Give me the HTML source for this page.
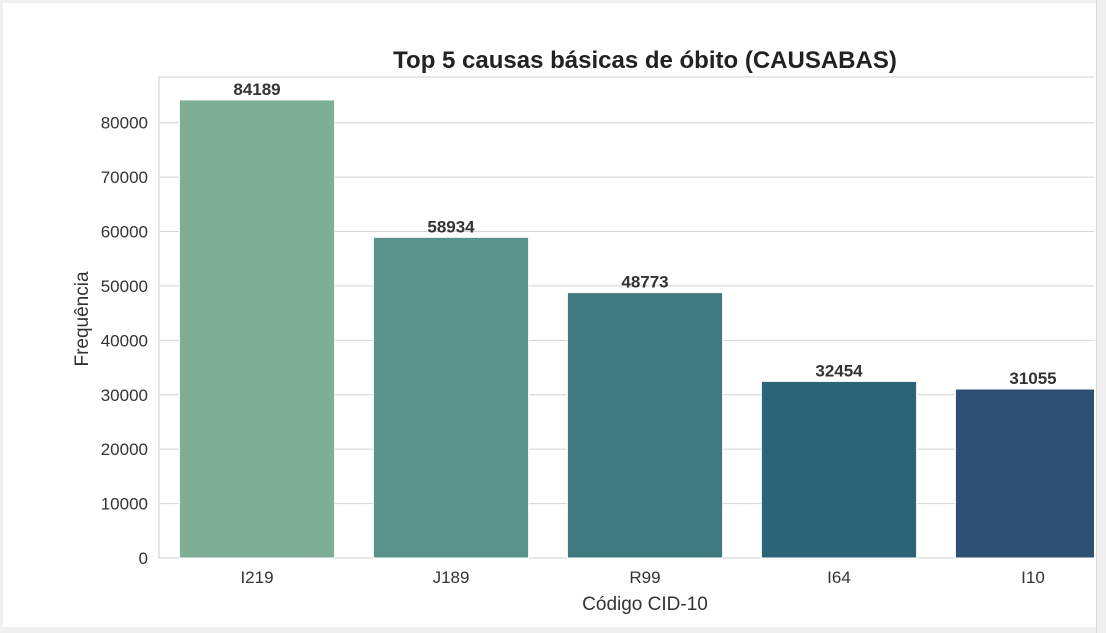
<!DOCTYPE html>
<html><head><meta charset="utf-8"><style>
html,body{margin:0;padding:0;width:1106px;height:633px;overflow:hidden;background:#f0f0f0;font-family:"Liberation Sans",Arial,sans-serif}
#panel{position:absolute;left:3px;top:3px;width:1093px;height:624px;background:#fff}
#sb{position:absolute;left:1096px;top:0;width:10px;height:633px;background:#f0f0f0;border-left:1px solid #d8d8d8}
svg{position:absolute;left:0;top:0}
</style></head><body>
<div id="panel"></div>
<svg id="chart" width="1094" height="627"></svg>
<div id="sb"></div>
<script>
const categories=["I219","J189","R99","I64","I10"];
const values=[84189,58934,48773,32454,31055];
const colors=["#7eae93","#5a9389","#3f7a80","#2c6578","#2e5073"];
const yTicks=[0,10000,20000,30000,40000,50000,60000,70000,80000];
const NS="http://www.w3.org/2000/svg";
const svg=document.getElementById('chart');
const L=160,T=77,B=558,step=194;
const yMax=Math.max(...values)*1.05;
const y=v=>B-(v/yMax)*(B-T);
const xc=i=>L+step*(i+0.5);
function mk(t,a){const e=document.createElementNS(NS,t);for(const k in a)e.setAttribute(k,a[k]);svg.appendChild(e);return e;}
yTicks.forEach(t=>{
  const g=mk('line',{x1:L,x2:1094,y1:y(t),y2:y(t),stroke:'#d4d4d4','stroke-width':1});
  
  
  const tx=mk('text',{x:L-12,y:y(t)+6,'text-anchor':'end','font-size':17,fill:'#333'});
  tx.textContent=t;
  
  
});
const ax=mk('path',{d:`M${L-1},${T}V${B}H1094M${L-1},${T}H1094`,stroke:'#cfcfcf',fill:'none','stroke-width':1});


categories.forEach((c,i)=>{
  const w=step*0.8,x0=xc(i)-w/2;
  const r=mk('rect',{x:x0,y:y(values[i]),width:w,height:B-y(values[i]),fill:colors[i],stroke:'#fff','stroke-width':1});
  
  
  const v=mk('text',{x:xc(i),y:y(values[i])-5,'text-anchor':'middle','font-size':17,'font-weight':'bold',fill:'#333'});
  v.textContent=values[i];
  
  
  const tl=mk('text',{x:xc(i),y:B+25,'text-anchor':'middle','font-size':17,fill:'#333'});
  tl.textContent=c;
  
  
});
const ti=mk('text',{x:645,y:68,'text-anchor':'middle','font-size':24,'font-weight':'bold',fill:'#222'});
ti.textContent='Top 5 causas básicas de óbito (CAUSABAS)';


const xt=mk('text',{x:645,y:610,'text-anchor':'middle','font-size':19,fill:'#333'});
xt.textContent='Código CID-10';


const yt=mk('text',{x:0,y:0,'text-anchor':'middle','font-size':19,fill:'#333',transform:'translate(88,319) rotate(-90)'});
yt.textContent='Frequência';


</script>
</body></html>
